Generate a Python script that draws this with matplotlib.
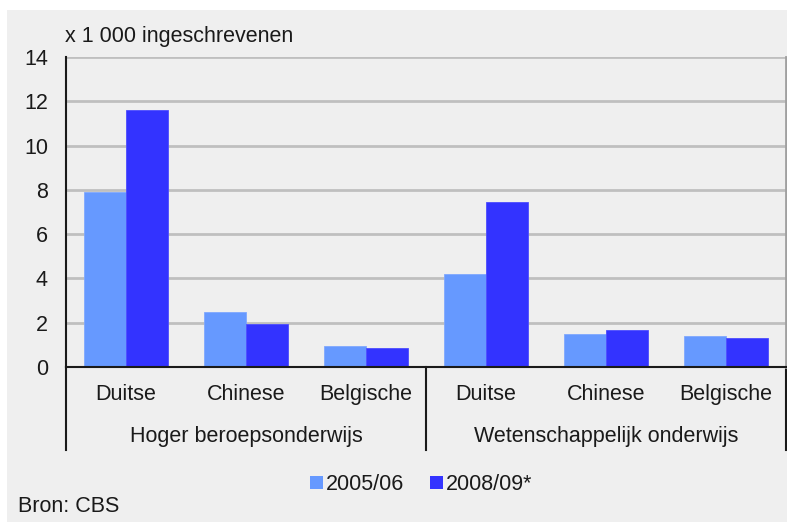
import numpy as np
import matplotlib.pyplot as plt
import matplotlib.transforms as mtransforms
from matplotlib.patches import Rectangle

plt.rcParams['font.family'] = ['Liberation Sans', 'DejaVu Sans']

# data: thousands of enrolled students by nationality
groups = ['Hoger beroepsonderwijs', 'Wetenschappelijk onderwijs']
nationalities = ['Duitse', 'Chinese', 'Belgische']
years = ['2005/06', '2008/09*']
vals_2005 = [7.9, 2.5, 0.95, 4.2, 1.5, 1.4]
vals_2008 = [11.6, 1.95, 0.87, 7.45, 1.67, 1.3]
yticks = [0, 2, 4, 6, 8, 10, 12, 14]

light = '#6699ff'
dark = '#3333ff'
panel = '#efefef'
grid_col = '#bfbfbf'
txt = '#1a1a1a'
fs = 15.5

W, H = 787, 522
fig = plt.figure(figsize=(W / 100, H / 100), dpi=100)
fig.patch.set_facecolor('white')
fig.patches.append(Rectangle((7 / W, 0), 1 - 7 / W, 1 - 10 / H,
                             transform=fig.transFigure, facecolor=panel,
                             edgecolor='none', zorder=-10))

ax = fig.add_axes([66 / W, (H - 367) / H, (786 - 66) / W, (367 - 57) / H])
ax.set_facecolor(panel)

n = len(vals_2005)
x = np.arange(n)
bw = 0.35
ax.bar(x - bw / 2, vals_2005, width=bw, color=light, edgecolor='#7fa8ff',
       linewidth=0.6, zorder=3)
ax.bar(x + bw / 2, vals_2008, width=bw, color=dark, edgecolor='#4d4dff',
       linewidth=0.6, zorder=3)

ax.set_xlim(-0.5, n - 0.5)
ax.set_ylim(0, 14)
ax.set_yticks(yticks)
ax.set_yticklabels([str(t) for t in yticks], fontsize=fs, color=txt)
ax.tick_params(axis='y', length=0, pad=13)
ax.set_xticks([])
for t in yticks[1:]:
    ax.axhline(t, color=grid_col, linewidth=2, zorder=1)

ax.spines['top'].set_visible(False)
ax.spines['right'].set_color('#a0a0a0')
ax.spines['right'].set_linewidth(2)
ax.spines['left'].set_color(txt)
ax.spines['left'].set_linewidth(1.5)
ax.spines['bottom'].set_color(txt)
ax.spines['bottom'].set_linewidth(1.5)
ax.spines['bottom'].set_zorder(4)

# category and group labels under the axis
trans = mtransforms.blended_transform_factory(ax.transData, ax.transAxes)
px = 1 / (367 - 57)
for i in range(n):
    ax.text(x[i], -(400 - 367) * px, nationalities[i % 3], transform=trans,
            ha='center', va='baseline', fontsize=fs, color=txt)
for g, name in enumerate(groups):
    ax.text(g * 3 + 1, -(442 - 367) * px, name, transform=trans,
            ha='center', va='baseline', fontsize=fs, color=txt)
for xs in [-0.5, 2.5, 5.5]:
    ax.plot([xs, xs], [0, -(450 - 367) * px], transform=trans,
            color=txt, linewidth=1.5, clip_on=False)

fig.text(65 / W, 1 - 42 / H, 'x 1 000 ingeschrevenen', ha='left',
         va='baseline', fontsize=fs, color=txt)
fig.text(18 / W, 1 - 512 / H, 'Bron: CBS', ha='left', va='baseline',
         fontsize=fs, color=txt)

# legend
for sx, tx, col, lab in [(310, 326, light, years[0]), (430, 446, dark, years[1])]:
    fig.patches.append(Rectangle((sx / W, 1 - 489 / H), 13 / W, 13 / H,
                                 transform=fig.transFigure, facecolor=col,
                                 edgecolor='none'))
    fig.text(tx / W, 1 - 490 / H, lab, ha='left', va='baseline',
             fontsize=fs, color=txt)

fig.savefig('out.png', dpi=100, facecolor=fig.get_facecolor())
